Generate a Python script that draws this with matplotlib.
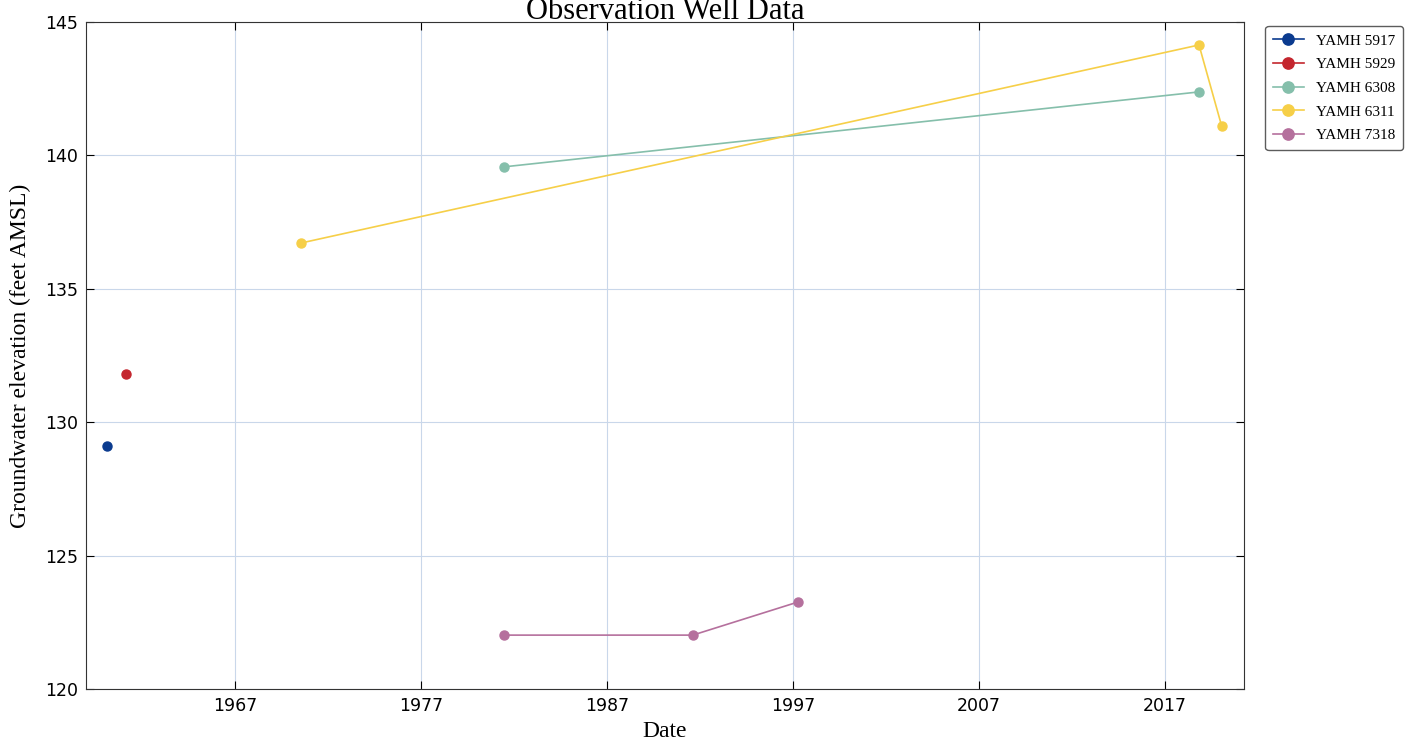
import pandas as pd
import matplotlib
matplotlib.use("Agg")
import matplotlib.pyplot as plt
import matplotlib.dates as mdates

# well readings (date, elevation in feet AMSL)
wells = ["YAMH 5917", "YAMH 5929", "YAMH 6308", "YAMH 6311", "YAMH 7318"]
dates_5917 = ["1960-02-15"]
elev_5917 = [129.1]
dates_5929 = ["1961-03-01"]
elev_5929 = [131.8]
dates_6308 = ["1981-06-15", "2018-11-01"]
elev_6308 = [139.57, 142.38]
dates_6311 = ["1970-08-01", "2018-11-01", "2020-01-20"]
elev_6311 = [136.72, 144.14, 141.1]
dates_7318 = ["1981-06-15", "1991-08-15", "1997-04-10"]
elev_7318 = [122.02, 122.02, 123.26]
colors = ["#0b3b8f", "#c4262e", "#85bfab", "#f6cf48", "#b5709d"]

series = [(dates_5917, elev_5917), (dates_5929, elev_5929), (dates_6308, elev_6308),
          (dates_6311, elev_6311), (dates_7318, elev_7318)]

fig = plt.figure(figsize=(14.15, 7.49), dpi=100)
ax = fig.add_axes([0.0608, 0.0801, 0.8183, 0.8905])

for name, (d, v), c in zip(wells, series, colors):
    ax.plot(pd.to_datetime(d), v, "-o", color=c, markeredgecolor=c, lw=1.2, ms=6.5, label=name)

ax.set_xlim(pd.Timestamp("1959-01-01"), pd.Timestamp("2021-04-01"))
ax.set_ylim(120, 145)
ax.set_xticks(pd.to_datetime([f"{y}-01-01" for y in range(1967, 2018, 10)]))
ax.xaxis.set_major_formatter(mdates.DateFormatter("%Y"))
ax.set_yticks(range(120, 146, 5))
ax.tick_params(direction="in", length=6, labelsize=12.5, pad=6, top=True, right=True)
ax.grid(True, color="#c9d7ea", lw=0.8)
ax.set_axisbelow(True)
for s in ax.spines.values():
    s.set_color("#333333")

serif = "Liberation Serif"
ax.set_title("Observation Well Data", family=serif, fontsize=22, pad=2)
ax.set_xlabel("Date", family=serif, fontsize=17, labelpad=4)
ax.set_ylabel("Groundwater elevation (feet AMSL)", family=serif, fontsize=17, labelpad=10)

leg = ax.legend(loc="upper left", bbox_to_anchor=(1.012, 1.005), prop={"family": serif, "size": 11},
                fancybox=True, frameon=True, borderpad=0.5, handlelength=2.0,
                labelspacing=0.65, markerscale=1.25)
leg.get_frame().set_edgecolor("#333333")

fig.savefig("out.png", dpi=100)
